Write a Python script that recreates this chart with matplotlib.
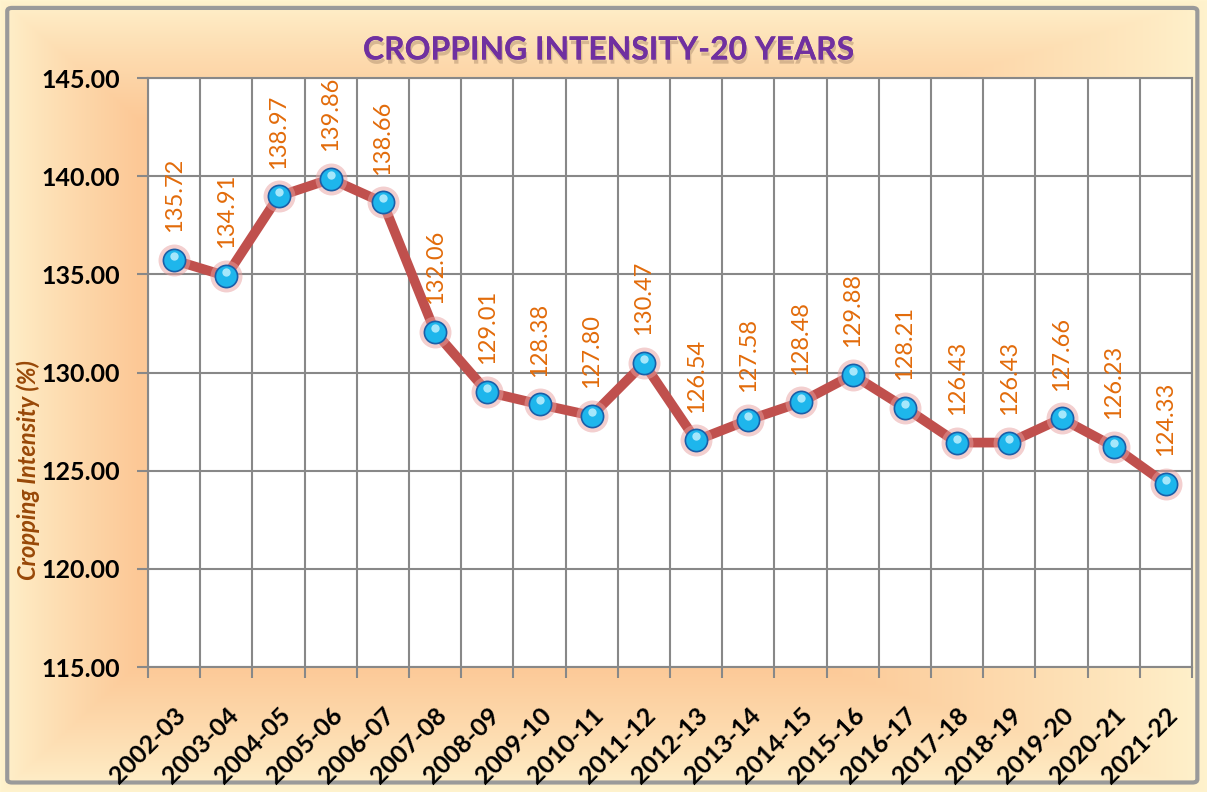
import matplotlib.pyplot as plt
import numpy as np
import matplotlib.patheffects as pe
from matplotlib.patches import FancyBboxPatch
from matplotlib.transforms import ScaledTranslation

years = ["2002-03", "2003-04", "2004-05", "2005-06", "2006-07", "2007-08", "2008-09",
         "2009-10", "2010-11", "2011-12", "2012-13", "2013-14", "2014-15", "2015-16",
         "2016-17", "2017-18", "2018-19", "2019-20", "2020-21", "2021-22"]
intensity = [135.72, 134.91, 138.97, 139.86, 138.66, 132.06, 129.01, 128.38, 127.80, 130.47,
             126.54, 127.58, 128.48, 129.88, 128.21, 126.43, 126.43, 127.66, 126.23, 124.33]
y_ticks = [115, 120, 125, 130, 135, 140, 145]

W, H = 1207, 792
fig = plt.figure(figsize=(W / 100, H / 100), dpi=100)

# background: cream edges fading into peach in the middle
bg = fig.add_axes([0, 0, 1, 1])
bg.set_axis_off()
yy, xx = np.mgrid[0:H, 0:W]
d = np.minimum.reduce([xx / 140.0, (W - xx) / 400.0, yy / 120.0, (H - yy) / 130.0])
t = np.clip(d, 0, 1) ** 0.8
cream = np.array([255, 243, 206]) / 255
peach = np.array([252, 200, 150]) / 255
img = cream[None, None, :] * (1 - t[..., None]) + peach[None, None, :] * t[..., None]
bg.imshow(img, extent=[0, 1, 0, 1], aspect="auto", origin="upper")
bg.add_patch(FancyBboxPatch((0.006, 0.012), 0.986, 0.978, boxstyle="round,pad=0,rounding_size=0.004",
                            fill=False, ec="#9a9a9a", lw=3, transform=bg.transAxes))
bg.set_xlim(0, 1)
bg.set_ylim(0, 1)

ax = fig.add_axes([148 / W, 1 - 667 / H, 1044 / W, 589 / H])
ax.set_facecolor("white")
x = np.arange(len(years))

ax.plot(x, intensity, color="#C0504D", lw=7, solid_joinstyle="round", zorder=3)
ax.plot(x, intensity, "o", ms=23, mfc="#e8a0a0", mec="none", alpha=0.5, zorder=4)
ax.plot(x, intensity, "o", ms=16, mfc="#1EB6EC", mec="#1A5FA8", mew=1.2, zorder=5)
ax.plot(x, intensity, "o", ms=6, mfc="#C8F4FF", mec="none", alpha=0.8, zorder=6,
        transform=ax.transData + ScaledTranslation(0, 4 / 100, fig.dpi_scale_trans))

for xi, v in zip(x, intensity):
    ax.annotate(f"{v:.2f}", (xi, v), xytext=(0, 20), textcoords="offset points",
                rotation=90, ha="center", va="bottom", color="#E26B0A",
                fontsize=17, family="Lato", zorder=7)

ax.set_xlim(-0.5, len(years) - 0.5)
ax.set_ylim(115, 145)
ax.set_yticks(y_ticks)
ax.set_yticklabels([f"{v:.2f}" for v in y_ticks], fontsize=18, fontweight="bold", family="Lato")
ax.set_xticks(x)
ax.set_xticklabels(years, rotation=45, ha="right", rotation_mode="anchor",
                   fontsize=18, fontweight="bold", family="Lato")
ax.set_xticks(np.arange(len(years) + 1) - 0.5, minor=True)
ax.tick_params(axis="x", which="major", length=0, pad=26)
ax.tick_params(axis="x", which="minor", length=8, color="#888888", width=1.5)
ax.tick_params(axis="y", length=8, color="#888888", width=1.5, pad=12)
ax.grid(True, which="minor", axis="x", color="#888888", lw=1.5)
ax.grid(True, which="major", axis="y", color="#888888", lw=1.5)
ax.set_axisbelow(True)
for s in ax.spines.values():
    s.set_color("#888888")
    s.set_linewidth(1.5)

ax.set_ylabel("Cropping Intensity (%)", fontsize=17, fontstyle="italic", fontweight="bold",
              color="#984807", family="Lato")
ax.yaxis.set_label_coords(-0.103, 0.334)
fig.text(0.505, 1 - 50 / H, "CROPPING INTENSITY-20 YEARS", ha="center", va="center",
         fontsize=23, fontweight="bold", color="#7030A0", family="Lato",
         path_effects=[pe.withSimplePatchShadow(offset=(1, -3), shadow_rgbFace="#b09070", alpha=0.5),
                       pe.Normal()])

fig.savefig("out.png", dpi=100)
